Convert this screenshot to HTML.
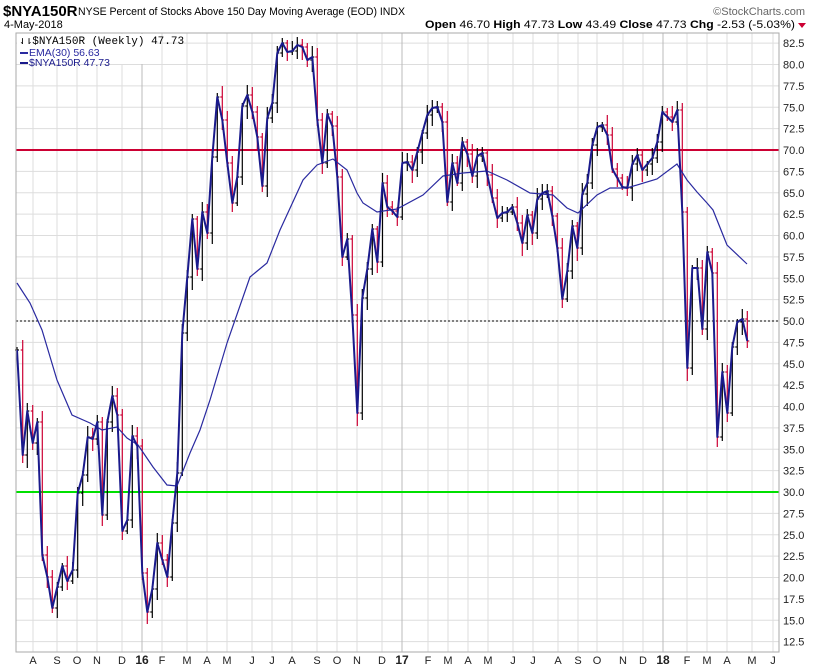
<!DOCTYPE html>
<html><head><meta charset="utf-8"><style>
body{margin:0;background:#fff;width:820px;height:668px;overflow:hidden;font-family:"Liberation Sans",sans-serif;}
svg{position:absolute;left:0;top:0}
</style></head><body>
<svg id="s" width="820" height="668" xmlns="http://www.w3.org/2000/svg" font-family="Liberation Sans, sans-serif">
<rect width="820" height="668" fill="#fff"/>
<g id="grid"></g>
<line x1="16" y1="150" x2="779" y2="150" stroke="#cc0033" stroke-width="2"/>
<line x1="16" y1="492" x2="779" y2="492" stroke="#00e000" stroke-width="2"/>
<line x1="16" y1="321" x2="779" y2="321" stroke="#000" stroke-width="1" stroke-dasharray="2,2"/>
<g id="bars"></g>
<polyline id="ema" fill="none" stroke="#2a2aa0" stroke-width="1.2"/>
<polyline id="cl" fill="none" stroke="#1a1a8c" stroke-width="2" stroke-linejoin="round"/>
<rect x="16" y="33" width="763" height="619" fill="none" stroke="#aaa" stroke-width="1"/>
<g id="lab" font-size="11" fill="#222"></g>
<rect x="17" y="34" width="140" height="30" fill="#fff"/>
<text x="19" y="44" font-size="11" font-family="Liberation Mono, monospace" fill="#000">⇃⇂$NYA150R (Weekly) 47.73</text>
<rect x="20" y="52" width="8" height="2" fill="#2a2aa0"/>
<text x="29" y="56" font-size="10.5" fill="#2a2aa0">EMA(30) 56.63</text>
<rect x="20" y="62" width="8" height="2" fill="#1a1a8c"/>
<text x="29" y="66" font-size="10.5" fill="#1a1a8c">$NYA150R 47.73</text>
<text x="3" y="16" font-size="15" font-weight="bold" fill="#000">$NYA150R</text>
<text x="78" y="15" font-size="11" fill="#000" textLength="327" lengthAdjust="spacingAndGlyphs">NYSE Percent of Stocks Above 150 Day Moving Average (EOD)  INDX</text>
<text x="4" y="28" font-size="11" fill="#000">4-May-2018</text>
<text x="805" y="15" font-size="11" fill="#666" text-anchor="end">©StockCharts.com</text>
<text x="425" y="28" font-size="11" fill="#000" textLength="370" lengthAdjust="spacingAndGlyphs"><tspan font-weight="bold">Open</tspan> 46.70 <tspan font-weight="bold">High</tspan> 47.73 <tspan font-weight="bold">Low</tspan> 43.49 <tspan font-weight="bold">Close</tspan> 47.73 <tspan font-weight="bold">Chg</tspan> -2.53 (-5.03%)</text>
<polygon points="798,23 806,23 802,28" fill="#cc0033"/>
</svg>
<script>
var NS="http://www.w3.org/2000/svg";
function el(p,t,a,txt){var e=document.createElementNS(NS,t);for(var k in a)e.setAttribute(k,a[k]);if(txt)e.textContent=txt;p.appendChild(e);return e;}
var g=document.getElementById('grid'),lab=document.getElementById('lab');
for(var i=0;i<=28;i++){var v=12.5+i*2.5;var y=321-(v-50)*8.55;
 el(g,'line',{x1:16,x2:779,y1:y,y2:y,stroke:'#ddd','stroke-width':1});
 el(lab,'text',{x:783,y:y+4},v.toFixed(1));}
var mx=[[33,'A'],[57,'S'],[77,'O'],[97,'N'],[122,'D'],[142,'16'],[162,'F'],[187,'M'],[207,'A'],[227,'M'],[252,'J'],[272,'J'],[292,'A'],[317,'S'],[337,'O'],[357,'N'],[382,'D'],[402,'17'],[428,'F'],[448,'M'],[468,'A'],[488,'M'],[513,'J'],[533,'J'],[558,'A'],[578,'S'],[597,'O'],[623,'N'],[643,'D'],[663,'18'],[687,'F'],[707,'M'],[727,'A'],[752,'M'],[773,'J']];
mx.forEach(function(m){var yr=m[1].length==2;
 el(g,'line',{x1:m[0],x2:m[0],y1:33,y2:652,stroke:yr?'#bbb':'#ddd','stroke-width':1});
 var t=el(lab,'text',{x:m[0],y:664,'text-anchor':'middle'},m[1]);if(yr){t.setAttribute('font-weight','bold');t.setAttribute('font-size','12');}});
var C=[[17,350],[22.7,455],[27.3,411],[32.7,443],[37.3,422],[42.3,555],[47.3,577],[52.3,608],[57.3,587],[62.3,566],[67.3,581],[72.7,570],[77.7,493],[82.7,475],[87.7,437],[92.7,439],[97.3,422],[102.3,515],[107.3,422],[112.3,396],[117.3,415],[122.3,531],[127.3,520],[132.3,436],[137.3,446],[142.3,573],[147.3,612],[152.3,589],[157.3,543],[162.3,560],[167.3,577],[172.3,523],[177.3,473],[182.3,333],[187.3,277],[192.3,219],[197.3,269],[202.3,212],[207.3,233],[212.3,157],[217.3,97],[222.3,120],[227.3,163],[232.3,203],[237.3,177],[242.3,106],[247.3,95],[252.3,112],[257.3,137],[262.3,186],[267.3,118],[272.3,103],[277.3,53],[282.3,43],[287.3,52],[292.3,51],[297.3,45],[302.3,47],[307.3,60],[312.3,57],[317.3,120],[322.3,163],[327.3,114],[332.3,126],[337.3,177],[342.3,257],[347.3,239],[352.3,315],[357.3,413],[362.3,298],[367.3,269],[372.3,229],[377.3,262],[382.5,183],[387.3,207],[392.3,211],[397.3,217],[402.3,163],[407.3,162],[412.3,170],[417.3,152],[422.3,133],[427.3,115],[432.3,108],[437.3,107],[442.3,122],[447.3,202],[452.3,163],[457.3,183],[462.3,142],[467.3,154],[472.3,176],[477.3,156],[482.3,153],[487.3,175],[492.3,198],[497.3,218],[502.3,213],[507.3,212],[512.3,207],[517.3,223],[522.3,243],[527.3,215],[532.3,233],[537.3,199],[542.3,193],[547.3,191],[552.3,216],[557.3,248],[562.3,299],[567.3,271],[572.3,226],[577.3,248],[582.3,194],[587.3,183],[592.3,145],[597.3,127],[602.3,125],[607.3,135],[612.3,169],[617.3,178],[622.3,187],[627.3,188],[632.3,164],[637.3,155],[642.3,170],[647.3,164],[652.3,158],[657.3,142],[662.3,112],[667.3,117],[672.3,122],[677.3,110],[682.3,212],[687.3,368],[692.3,268],[697.3,268],[702.3,329],[707.3,252],[712.3,273],[717.3,437],[722.3,372],[727.3,413],[732.3,347],[737.3,322],[742.3,319],[747.3,341]];
var E=[[17,283],[30,303],[42,330],[57,380],[72,415],[90,423],[102,430],[117,427],[127,438],[138,445],[153,467],[167,485],[177,486],[190,453],[200,430],[210,400],[227,343],[250,277],[267,263],[280,230],[303,180],[317,165],[333,159],[347,170],[357,193],[363,203],[377,212],[397,209],[423,195],[443,176],[463,173],[487,171],[507,180],[530,193],[553,195],[567,208],[578,213],[597,195],[610,188],[627,188],[657,179],[677,164],[687,180],[697,192],[707,203],[713,210],[727,245],[747,264]];
document.getElementById('cl').setAttribute('points',C.map(function(p){return p.join(',')}).join(' '));
document.getElementById('ema').setAttribute('points',E.map(function(p){return p.join(',')}).join(' '));
var b=document.getElementById('bars');
for(var i=0;i<C.length;i++){var x=C[i][0],c=C[i][1],o=i?C[i-1][1]:c;
 var hi=Math.min(o,c)-3-((i*7)%9),lo=Math.max(o,c)+3+((i*5)%11);
 var col=(c>o)?'#cc0033':'#000';
 el(b,'line',{x1:x,x2:x,y1:hi,y2:lo,stroke:col,'stroke-width':1.2});
 el(b,'line',{x1:x-2,x2:x,y1:o,y2:o,stroke:col,'stroke-width':1.2});
 el(b,'line',{x1:x,x2:x+2,y1:c,y2:c,stroke:col,'stroke-width':1.2});}
</script>
</body></html>
